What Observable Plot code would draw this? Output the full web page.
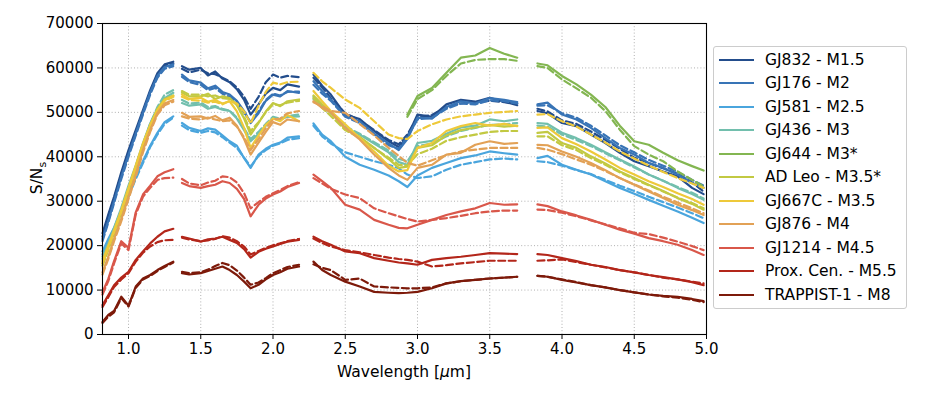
<!DOCTYPE html>
<html>
<head>
<meta charset="utf-8">
<script src="https://cdn.jsdelivr.net/npm/d3@7"></script>
<script src="https://cdn.jsdelivr.net/npm/@observablehq/plot@0.6"></script>
<style>
  html, body { margin: 0; padding: 0; background: #fff; }
  #wrap { position: relative; width: 926px; height: 405px; font-family: "DejaVu Sans", sans-serif; }
  #legend { position: absolute; left: 713px; top: 46px; width: 194px; height: 263px;
            border: 1px solid #cccccc; border-radius: 3px; background: #fff; box-sizing: border-box; }
  .row { position: absolute; left: 0; height: 20px; display: flex; align-items: center; }
  .sw { position: absolute; left: 5px; width: 35px; height: 0; border-top: 2.5px solid; }
  .lt { position: absolute; left: 51px; white-space: nowrap; font-size: 15.5px; color: #000; line-height: 20px; top: -10px; }
</style>
</head>
<body>
<div id="wrap"></div>
<script>
// Wavelength grid (µm), four detector segments
const W1 = [0.82, 0.86, 0.90, 0.95, 1.00, 1.05, 1.10, 1.15, 1.20, 1.25, 1.31];
const W2 = [1.37, 1.42, 1.50, 1.55, 1.60, 1.65, 1.70, 1.75, 1.80, 1.845, 1.90, 1.95, 2.00, 2.05, 2.10, 2.18];
const W3 = [2.28, 2.34, 2.40, 2.50, 2.60, 2.70, 2.80, 2.87, 2.93, 3.00, 3.10, 3.20, 3.30, 3.40, 3.50, 3.60, 3.69];
const W4 = [3.83, 3.90, 4.00, 4.10, 4.20, 4.30, 4.40, 4.50, 4.60, 4.70, 4.80, 4.90, 4.98];

const stars = ["GJ832 - M1.5", "GJ176 - M2", "GJ581 - M2.5", "GJ436 - M3", "GJ644 - M3*", "AD Leo - M3.5*",
               "GJ667C - M3.5", "GJ876 - M4", "GJ1214 - M4.5", "Prox. Cen. - M5.5", "TRAPPIST-1 - M8"];
const colors = ["#234d8c", "#3874b6", "#4aa5dd", "#72bfad", "#83b651", "#c2c942", "#eec93a", "#e2a156", "#d9574a", "#b3261a", "#7d1a0a"];

const xTicks = [1.0, 1.5, 2.0, 2.5, 3.0, 3.5, 4.0, 4.5, 5.0];
const yTicks = [0, 10000, 20000, 30000, 40000, 50000, 60000, 70000];

// S/N values: solid (_s) and dashed (_d) for each star, on W1|W2|W3|W4
const GJ832_s = [
  22800, 27000, 31000, 36500, 41500, 46000, 50500, 55000, 58800, 60800, 61400,
  60400, 59600, 60000, 58300, 59200, 57600, 56800, 55200, 52800, 49500, 51800, 54200, 55500, 55000, 56300, 55800,
  58500, 56000, 54000, 49500, 48500, 45800, 43500, 42200, 44500, 49500, 49000, 51800, 52800, 52400, 53300, 52400, 51600,
  50300, 49800, 47600, 46900, 45000, 43100, 40900, 39000, 37900, 36700, 35600, 33000, 31600];
const GJ832_d = [
  22000, 26500, 30500, 36000, 41000, 45500, 50000, 54500, 58500, 60500, 61000,
  59800, 59000, 59600, 58800, 58600, 57800, 57000, 55600, 53500, 50800, 53500, 56800, 58500, 57800, 58200, 57900,
  57800, 55600, 53200, 49800, 48200, 46000, 43800, 42800, 45000, 49000, 49400, 51200, 52000, 52300, 52600, 52300, 52000,
  50800, 50200, 48200, 47400, 45700, 43800, 41800, 39800, 38600, 37400, 36200, 34200, 32200];
const GJ176_s = [
  21500, 25500, 30000, 35500, 40500, 45200, 50000, 54500, 58200, 60200, 60800,
  58500, 57200, 56700, 55400, 56000, 54600, 54000, 52600, 50300, 47600, 49800, 52600, 54000, 53600, 54800, 54400,
  57000, 54800, 52900, 49200, 48000, 45200, 43000, 41500, 44000, 48800, 48600, 51200, 52500, 52000, 53200, 52800, 52300,
  51800, 52200, 49500, 48400, 46500, 44200, 42000, 40500, 38600, 37500, 36000, 34100, 33000];
const GJ176_d = [
  21000, 25200, 29600, 35000, 40000, 44800, 49500, 54000, 57800, 59800, 60400,
  58000, 56800, 56200, 55000, 55500, 54200, 53500, 52200, 50000, 47800, 50200, 52800, 54200, 53800, 54600, 54700,
  56200, 54200, 52600, 49000, 47600, 45000, 42600, 41800, 44500, 48400, 48800, 50800, 52000, 51800, 52700, 52500, 52000,
  51500, 51600, 49800, 48800, 47000, 44800, 42600, 41000, 39300, 38000, 36600, 34800, 33500];
const GJ581_s = [
  18700, 21500, 24000, 28000, 31500, 35500, 39000, 42500, 45400, 47800, 49100,
  47600, 46500, 45800, 46400, 46100, 44800, 43500, 42500, 39700, 37500, 40500, 41800, 42700, 43200, 44300, 44600,
  47500, 45000, 43500, 40000, 38200, 37100, 35800, 34500, 33200, 35800, 37500, 38600, 39700, 40300, 41200, 40800, 40500,
  39700, 40200, 38200, 37100, 36000, 34500, 33000, 31700, 30300, 29000, 27700, 26300, 25100];
const GJ581_d = [
  18000, 21000, 23500, 27500, 31000, 35000, 38600, 42200, 45000, 47400, 48800,
  47000, 46000, 45400, 45800, 45500, 44400, 43200, 42000, 39800, 37800, 40200, 41500, 42500, 43000, 43800, 44200,
  47000, 44600, 43000, 41000, 40000, 39000, 38200, 37400, 36000, 35200, 35600, 37100, 38200, 38800, 39400, 39600, 39400,
  39000, 38800, 38000, 37000, 36100, 34800, 33500, 32300, 31000, 29800, 28600, 27300, 26200];
const GJ436_s = [
  17500, 20500, 24000, 28500, 33500, 38000, 43000, 47500, 50800, 53200, 54400,
  52100, 51500, 51800, 50800, 51200, 50600, 50300, 48600, 46000, 43500, 45200, 47000, 48800, 48400, 49000, 49100,
  53500, 51500, 50000, 46500, 45000, 43000, 41000, 38800, 38200, 43100, 43600, 45200, 46600, 47000, 48400, 48000, 48400,
  47600, 47400, 45400, 44200, 42700, 41000, 39400, 37800, 36000, 34600, 33000, 31600, 30300];
const GJ436_d = [
  17000, 20000, 23500, 28000, 33000, 37800, 42800, 47400, 51200, 54000, 55000,
  52800, 52000, 52200, 51200, 51400, 50800, 50400, 48800, 46400, 44000, 45600, 47400, 49000, 48600, 49200, 49500,
  53000, 51200, 49800, 46800, 45200, 43300, 41400, 39500, 39000, 42400, 43000, 44600, 45800, 46500, 47200, 47300, 47600,
  47000, 46800, 45000, 43800, 42400, 40800, 39200, 37600, 36000, 34600, 33200, 31900, 30600];
const GJ644_s = [
  null, null, null, null, null, null, null, null, null, null, null,
  null, null, null, null, null, null, null, null, null, null, null, null, null, null, null, null,
  null, null, null, null, null, null, null, null, 49500, 53700, 55500, 58900, 62300, 62800, 64500, 63200, 62300,
  61000, 60600, 58200, 56300, 54000, 51200, 47000, 43500, 42700, 40900, 39200, 37900, 36900];
const GJ644_d = [
  null, null, null, null, null, null, null, null, null, null, null,
  null, null, null, null, null, null, null, null, null, null, null, null, null, null, null, null,
  null, null, null, null, null, null, null, null, 49000, 53000, 55000, 58200, 61000, 61800, 62000, 62000, 61600,
  60400, 60000, 57400, 55400, 53300, 50300, 46100, 42400, 40500, 39000, 36700, 34800, 33300];
const ADLeo_s = [
  16000, 19500, 23000, 27500, 32500, 37500, 42500, 47000, 50800, 53000, 53800,
  54400, 53600, 53600, 54200, 53000, 53600, 53200, 51600, 48600, 45000, 47600, 50200, 52100, 51400, 52500, 52900,
  53800, 51800, 50000, 46200, 44500, 42000, 39500, 37500, 37800, 42000, 42600, 44800, 46000, 46600, 47200, 46800, 47000,
  45400, 45600, 43100, 42000, 40100, 38500, 36700, 35200, 33700, 32300, 30700, 29400, 28100];
const ADLeo_d = [
  15500, 19000, 22500, 27000, 32000, 37000, 42000, 46600, 50500, 52800, 53500,
  54800, 54000, 54000, 53600, 53800, 53200, 53000, 51800, 49000, 45800, 47800, 50000, 51800, 51600, 52200, 52600,
  53200, 51000, 49200, 46000, 44300, 42000, 39800, 38200, 38000, 40600, 41800, 43600, 44400, 45000, 45600, 45800, 45800,
  44600, 44600, 42600, 41500, 39700, 38200, 36500, 35000, 33600, 32200, 30800, 29600, 28400];
const GJ667C_s = [
  16500, 20000, 23500, 28000, 33000, 38000, 43000, 47200, 50500, 52800, 53700,
  54000, 53000, 53300, 52400, 52800, 52000, 52500, 50200, 46500, 42000, 44800, 47200, 48600, 48000, 49400, 48000,
  54800, 52500, 50300, 47300, 44200, 41200, 38000, 36700, 37000, 42000, 43100, 45800, 46900, 47600, 47000, 47400, 46900,
  46500, 46600, 44200, 42800, 41200, 39400, 37500, 36000, 34500, 33200, 31800, 30500, 29200];
const GJ667C_d = [
  16000, 19500, 23000, 27600, 32600, 37600, 42600, 47000, 50400, 52600, 53500,
  53500, 52800, 52600, 52200, 52400, 51800, 52600, 52000, 50200, 47500, 51500, 54600, 56700, 56300, 56800, 56900,
  58900, 57000, 55500, 52900, 51000, 48000, 45000, 44200, 44000, 45800, 47300, 48400, 49100, 49500, 49900, 50100, 50300,
  49500, 49600, 48000, 46800, 45000, 43200, 41200, 39600, 38000, 36600, 35200, 34000, 33000];
const GJ876_s = [
  14000, 17500, 21500, 26000, 31000, 36000, 41500, 46000, 49800, 52000, 52800,
  49900, 49000, 49100, 48600, 49200, 48200, 48800, 47000, 44000, 40500, 43200, 45600, 47800, 47200, 48400, 48000,
  52500, 51000, 50000, 46500, 43900, 40500, 37500, 35800, 34800, 37500, 38200, 40500, 40900, 42700, 43500, 42900, 43100,
  42700, 42600, 41200, 40000, 38600, 37000, 35200, 33700, 32200, 30700, 29200, 28000, 26900];
const GJ876_d = [
  13500, 17000, 21000, 25500, 30500, 35500, 41000, 45600, 49500, 51600, 52400,
  49100, 48600, 48400, 48800, 48400, 48000, 48200, 46800, 44400, 41500, 44000, 46400, 48400, 48600, 49800, 50300,
  52300, 51400, 50300, 49900, 47400, 44800, 42000, 40200, 38600, 38000, 39200, 40400, 41200, 41600, 42000, 42000, 42000,
  42000, 41600, 40600, 39400, 38200, 36800, 35200, 33800, 32400, 31000, 29700, 28400, 27300];
const GJ1214_s = [
  9500, 12500, 16500, 21000, 19500, 27500, 31500, 33500, 35600, 36500, 37200,
  34100, 33400, 33000, 33400, 33700, 34500, 34100, 32800, 30500, 26600, 29200, 30600, 31500, 32200, 33200, 34100,
  36000, 34500, 33000, 29200, 28100, 25800, 24700, 24000, 23900, 24700, 25800, 26900, 27700, 28400, 29600, 29200, 29300,
  29300, 28900, 27700, 26800, 25800, 24700, 23600, 22700, 21700, 21000, 20200, 19000, 17900];
const GJ1214_d = [
  9000, 12000, 16000, 20500, 19000, 27000, 31000, 33000, 34800, 35200, 35300,
  35000, 34000, 33600, 34200, 34600, 35600, 35400, 34200, 31800, 28400, 29800, 31000, 31800, 32500, 33400, 34300,
  35200, 34000, 32800, 31500, 30700, 28400, 27300, 26600, 26000, 25400, 25800, 26200, 26700, 27300, 27700, 27900, 27900,
  28100, 28000, 27400, 26600, 25700, 24800, 23900, 22900, 22600, 21800, 20900, 19900, 19000];
const Prox_s = [
  6600, 8800, 11100, 12800, 14100, 16800, 18700, 20500, 22000, 23200, 23800,
  22000, 21600, 20900, 21400, 21600, 22000, 21300, 20600, 19200, 17300, 18600, 19300, 19800, 20400, 20900, 21300,
  22000, 21000, 20200, 18700, 18300, 17200, 16600, 16200, 16000, 15700, 16800, 17200, 17500, 17900, 18300, 18200, 18100,
  18100, 17900, 17200, 16500, 15700, 15200, 14500, 14000, 13400, 12900, 12400, 11800, 11100];
const Prox_d = [
  6200, 8400, 10700, 12400, 13800, 16400, 18400, 19800, 20800, 21200, 21300,
  21800, 21400, 21000, 21200, 21500, 22100, 21800, 21000, 19800, 18000, 18800, 19500, 20100, 20500, 21000, 21500,
  21600, 20600, 19800, 19000, 18500, 17900, 17300, 17000, 16800, 16400, 15300, 15600, 16000, 16300, 16600, 16600, 16600,
  16600, 16700, 16900, 16300, 15700, 15100, 14500, 14000, 13400, 12800, 12400, 11900, 11500];
const TRAPPIST_s = [
  2800, 4400, 5300, 8500, 6500, 10800, 12600, 13400, 14500, 15400, 16400,
  13800, 13500, 13800, 14300, 14800, 15300, 14500, 13400, 11900, 10400, 11200, 12400, 13400, 14000, 14800, 15300,
  16400, 14500, 13400, 11900, 10800, 9600, 9400, 9300, 9400, 9600, 10400, 11500, 12000, 12300, 12600, 12800, 13000,
  13200, 13000, 12300, 11700, 11100, 10600, 10000, 9500, 9000, 8700, 8500, 8000, 7500];
const TRAPPIST_d = [
  2600, 4000, 5000, 8200, 6300, 10500, 12400, 13200, 14300, 15200, 16200,
  14100, 13800, 14000, 14600, 15400, 16100, 15600, 14400, 12800, 11200, 11700, 12700, 13800, 14500, 15200, 15700,
  15800, 15000, 14500, 12300, 12600, 10800, 10600, 10500, 10400, 10400, 10600, 11500, 12000, 12300, 12600, 12800, 13000,
  13200, 13000, 12400, 11800, 11100, 10600, 10000, 9500, 9000, 8600, 8300, 7800, 7300];

const solid = [GJ832_s, GJ176_s, GJ581_s, GJ436_s, GJ644_s, ADLeo_s, GJ667C_s, GJ876_s, GJ1214_s, Prox_s, TRAPPIST_s];
const dashed = [GJ832_d, GJ176_d, GJ581_d, GJ436_d, GJ644_d, ADLeo_d, GJ667C_d, GJ876_d, GJ1214_d, Prox_d, TRAPPIST_d];

// Build rows
const segs = [W1, W2, W3, W4];
const W = [], SEG = [];
segs.forEach((s, k) => s.forEach(w => { W.push(w); SEG.push(k); }));
function rows(vals) {
  const out = [];
  vals.forEach((v, i) => { if (v != null) out.push({x: W[i], y: v, seg: SEG[i]}); });
  return out;
}

const marks = [
  Plot.gridX(xTicks, {stroke: "#b0b0b0", strokeOpacity: 1, strokeWidth: 1, strokeDasharray: "1,2.2"}),
  Plot.gridY(yTicks, {stroke: "#b0b0b0", strokeOpacity: 1, strokeWidth: 1, strokeDasharray: "1,2.2"})
];
stars.forEach((name, k) => {
  marks.push(Plot.line(rows(solid[k]), {x: "x", y: "y", z: "seg", stroke: colors[k], strokeWidth: 2.2, strokeLinejoin: "round", curve: "linear"}));
  marks.push(Plot.line(rows(dashed[k]), {x: "x", y: "y", z: "seg", stroke: colors[k], strokeWidth: 2.2, strokeDasharray: "7,3.5", curve: "linear"}));
});
marks.push(Plot.frame({stroke: "#000", strokeWidth: 1.1}));
marks.push(Plot.axisX(xTicks, {tickFormat: d3.format(".1f"), tickSize: 5, tickPadding: 4, label: null, stroke: "#000"}));
marks.push(Plot.axisY(yTicks, {tickFormat: d => String(d), tickSize: 5, tickPadding: 4, label: null, stroke: "#000"}));

const chart = Plot.plot({
  width: 926, height: 405,
  marginLeft: 102, marginRight: 220, marginTop: 23, marginBottom: 71,
  x: {domain: [0.82, 5.0]},
  y: {domain: [0, 70000]},
  style: {fontFamily: "DejaVu Sans", fontSize: "15px", color: "#000", background: "#fff", overflow: "visible"},
  marks
});
const wrap = document.getElementById("wrap");
wrap.appendChild(chart);

// Axis labels
const svg = d3.select(chart);
const xl = svg.append("text").attr("x", 404).attr("y", 377).attr("text-anchor", "middle")
  .attr("font-family", "DejaVu Sans").attr("font-size", 15.5).attr("fill", "#000");
xl.append("tspan").text("Wavelength [");
xl.append("tspan").attr("font-style", "italic").text("μ");
xl.append("tspan").text("m]");
const yl = svg.append("text").attr("transform", "translate(42,178) rotate(-90)").attr("text-anchor", "middle")
  .attr("font-family", "DejaVu Sans").attr("font-size", 15.5).attr("fill", "#000");
yl.append("tspan").text("S/N");
yl.append("tspan").attr("font-size", 11).attr("dy", 4).text("s");

// Legend
const lg = document.createElement("div");
lg.id = "legend";
stars.forEach((name, k) => {
  const r = document.createElement("div");
  r.className = "row";
  r.style.top = (12.5 + k * 23.5) + "px";
  const sw = document.createElement("div");
  sw.className = "sw";
  sw.style.borderTopColor = colors[k];
  sw.style.top = "-1px";
  const t = document.createElement("div");
  t.className = "lt";
  t.textContent = name;
  r.appendChild(sw); r.appendChild(t);
  lg.appendChild(r);
});
wrap.appendChild(lg);
</script>
</body>
</html>
